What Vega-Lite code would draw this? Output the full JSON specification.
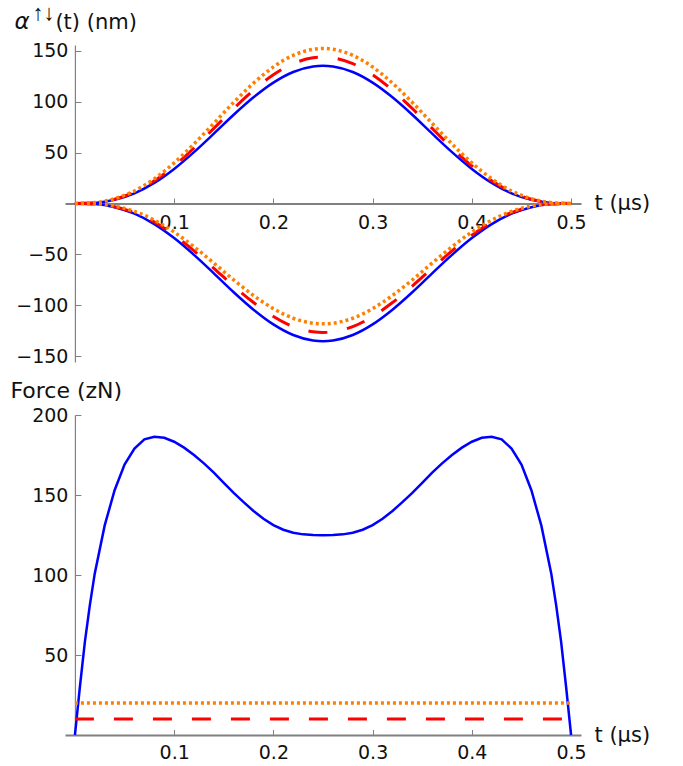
{
  "$schema": "https://vega.github.io/schema/vega-lite/v6.json",
  "background": "white",
  "padding": {"left": 9, "top": 1, "right": 0, "bottom": 10},
  "spacing": 12,
  "config": {
    "view": {"stroke": null},
    "axis": {
      "grid": false,
      "labelFont": "DejaVu Sans",
      "titleFont": "DejaVu Sans",
      "labelFontSize": 19,
      "titleFontSize": 21,
      "titleFontWeight": "normal",
      "labelColor": "#111111",
      "titleColor": "#111111",
      "domainColor": "#808080",
      "tickColor": "#808080",
      "labelFlush": false,
      "labelOverlap": false
    }
  },
  "datasets": {
    "alpha": [
      {"t": 0.00, "bu": 0.0, "bl": 0.0, "ru": 0.0, "rl": 0.0, "ou": 0.0, "ol": 0.0},
      {"t": 0.02, "bu": 0.6, "bl": -0.6, "ru": 0.7, "rl": -0.5, "ou": 0.9, "ol": -0.3},
      {"t": 0.04, "bu": 3.6, "bl": -3.6, "ru": 4.1, "rl": -3.1, "ou": 4.7, "ol": -2.6},
      {"t": 0.06, "bu": 10.0, "bl": -10.0, "ru": 11.2, "rl": -8.9, "ou": 12.3, "ol": -7.7},
      {"t": 0.08, "bu": 20.2, "bl": -20.2, "ru": 22.2, "rl": -18.2, "ou": 24.2, "ol": -16.3},
      {"t": 0.10, "bu": 33.9, "bl": -33.9, "ru": 36.8, "rl": -31.0, "ou": 39.8, "ol": -28.0},
      {"t": 0.12, "bu": 50.4, "bl": -50.4, "ru": 54.4, "rl": -46.4, "ou": 58.4, "ol": -42.4},
      {"t": 0.14, "bu": 68.5, "bl": -68.5, "ru": 73.6, "rl": -63.5, "ou": 78.6, "ol": -58.4},
      {"t": 0.16, "bu": 87.0, "bl": -87.0, "ru": 93.1, "rl": -80.9, "ou": 99.1, "ol": -74.9},
      {"t": 0.18, "bu": 104.1, "bl": -104.1, "ru": 111.1, "rl": -97.1, "ou": 118.0, "ol": -90.2},
      {"t": 0.20, "bu": 118.5, "bl": -118.5, "ru": 126.2, "rl": -110.8, "ou": 133.9, "ol": -103.1},
      {"t": 0.22, "bu": 128.9, "bl": -128.9, "ru": 137.1, "rl": -120.7, "ou": 145.3, "ol": -112.5},
      {"t": 0.24, "bu": 134.3, "bl": -134.3, "ru": 142.8, "rl": -125.8, "ou": 151.2, "ol": -117.4},
      {"t": 0.25, "bu": 135.0, "bl": -135.0, "ru": 143.5, "rl": -126.5, "ou": 152.0, "ol": -118.0},
      {"t": 0.26, "bu": 134.3, "bl": -134.3, "ru": 142.8, "rl": -125.8, "ou": 151.2, "ol": -117.4},
      {"t": 0.28, "bu": 128.9, "bl": -128.9, "ru": 137.1, "rl": -120.7, "ou": 145.3, "ol": -112.5},
      {"t": 0.30, "bu": 118.5, "bl": -118.5, "ru": 126.2, "rl": -110.8, "ou": 133.9, "ol": -103.1},
      {"t": 0.32, "bu": 104.1, "bl": -104.1, "ru": 111.1, "rl": -97.1, "ou": 118.0, "ol": -90.2},
      {"t": 0.34, "bu": 87.0, "bl": -87.0, "ru": 93.1, "rl": -80.9, "ou": 99.1, "ol": -74.9},
      {"t": 0.36, "bu": 68.5, "bl": -68.5, "ru": 73.6, "rl": -63.5, "ou": 78.6, "ol": -58.4},
      {"t": 0.38, "bu": 50.4, "bl": -50.4, "ru": 54.4, "rl": -46.4, "ou": 58.4, "ol": -42.4},
      {"t": 0.40, "bu": 33.9, "bl": -33.9, "ru": 36.8, "rl": -31.0, "ou": 39.8, "ol": -28.0},
      {"t": 0.42, "bu": 20.2, "bl": -20.2, "ru": 22.2, "rl": -18.2, "ou": 24.2, "ol": -16.3},
      {"t": 0.44, "bu": 10.0, "bl": -10.0, "ru": 11.2, "rl": -8.9, "ou": 12.3, "ol": -7.7},
      {"t": 0.46, "bu": 3.6, "bl": -3.6, "ru": 4.1, "rl": -3.1, "ou": 4.7, "ol": -2.6},
      {"t": 0.48, "bu": 0.6, "bl": -0.6, "ru": 0.7, "rl": -0.5, "ou": 0.9, "ol": -0.3},
      {"t": 0.50, "bu": 0.0, "bl": 0.0, "ru": 0.0, "rl": 0.0, "ou": 0.0, "ol": 0.0}
    ],
    "force": [
      {"t": 0.000, "f": 0},
      {"t": 0.005, "f": 30},
      {"t": 0.010, "f": 58},
      {"t": 0.015, "f": 81},
      {"t": 0.020, "f": 101},
      {"t": 0.030, "f": 131},
      {"t": 0.040, "f": 153},
      {"t": 0.050, "f": 169},
      {"t": 0.060, "f": 179},
      {"t": 0.070, "f": 184.8},
      {"t": 0.080, "f": 186.4},
      {"t": 0.090, "f": 185.8},
      {"t": 0.100, "f": 183.3},
      {"t": 0.110, "f": 179.6},
      {"t": 0.120, "f": 175.0},
      {"t": 0.130, "f": 169.8},
      {"t": 0.140, "f": 164.0},
      {"t": 0.150, "f": 157.6},
      {"t": 0.160, "f": 151.3},
      {"t": 0.170, "f": 145.5},
      {"t": 0.180, "f": 140.0},
      {"t": 0.190, "f": 135.2},
      {"t": 0.200, "f": 131.2},
      {"t": 0.210, "f": 128.3},
      {"t": 0.220, "f": 126.4},
      {"t": 0.230, "f": 125.4},
      {"t": 0.240, "f": 125.0},
      {"t": 0.250, "f": 124.9},
      {"t": 0.260, "f": 125.0},
      {"t": 0.270, "f": 125.4},
      {"t": 0.280, "f": 126.4},
      {"t": 0.290, "f": 128.3},
      {"t": 0.300, "f": 131.2},
      {"t": 0.310, "f": 135.2},
      {"t": 0.320, "f": 140.0},
      {"t": 0.330, "f": 145.5},
      {"t": 0.340, "f": 151.3},
      {"t": 0.350, "f": 157.6},
      {"t": 0.360, "f": 164.0},
      {"t": 0.370, "f": 169.8},
      {"t": 0.380, "f": 175.0},
      {"t": 0.390, "f": 179.6},
      {"t": 0.400, "f": 183.3},
      {"t": 0.410, "f": 185.8},
      {"t": 0.420, "f": 186.4},
      {"t": 0.430, "f": 184.8},
      {"t": 0.440, "f": 179},
      {"t": 0.450, "f": 169},
      {"t": 0.460, "f": 153},
      {"t": 0.470, "f": 131},
      {"t": 0.480, "f": 101},
      {"t": 0.485, "f": 81},
      {"t": 0.490, "f": 58},
      {"t": 0.495, "f": 30},
      {"t": 0.500, "f": 0}
    ],
    "static": [
      {"t": 0.0, "f": 20, "s": "orange"},
      {"t": 0.5, "f": 20, "s": "orange"},
      {"t": 0.0, "f": 10, "s": "red"},
      {"t": 0.5, "f": 10, "s": "red"}
    ]
  },
  "vconcat": [
    {
      "width": 516,
      "height": 317,
      "data": {"name": "alpha"},
      "transform": [{"fold": ["bu", "bl", "ru", "rl", "ou", "ol"], "as": ["curve", "v"]}],
      "encoding": {
        "x": {
          "field": "t",
          "type": "quantitative",
          "scale": {"domain": [-0.01, 0.51], "nice": false, "zero": false},
          "axis": {
            "values": [0.1, 0.2, 0.3, 0.4, 0.5],
            "offset": -158.5,
            "tickSize": -5.5,
            "labelPadding": 15.5,
            "domainWidth": 1.8,
            "title": "t (μs)",
            "titleAngle": 0,
            "titleAlign": "left",
            "titleBaseline": "middle",
            "titleX": 529,
            "titleY": 0
          }
        }
      },
      "layer": [
        {
          "transform": [{"filter": {"field": "curve", "oneOf": ["bu", "bl"]}}],
          "mark": {"type": "line", "color": "#0000ff", "strokeWidth": 2.5, "interpolate": "monotone"},
          "encoding": {
            "y": {
              "field": "v",
              "type": "quantitative",
              "scale": {"domain": [-155.4, 155.4], "nice": false, "zero": false},
              "axis": {
                "orient": "left",
                "values": [-150, -100, -50, 50, 100, 150],
                "offset": -9.92,
                "tickSize": -6,
                "labelPadding": 13,
                "domainWidth": 1.2,
                "title": "(t) (nm)",
                "titleAngle": 0,
                "titleAlign": "left",
                "titleBaseline": "alphabetic",
                "titleX": -20,
                "titleY": -17
              }
            },
            "detail": {"field": "curve"}
          }
        },
        {
          "transform": [{"filter": {"field": "curve", "oneOf": ["ru", "rl"]}}],
          "mark": {"type": "line", "color": "#ff0000", "strokeWidth": 3, "strokeDash": [19, 20], "interpolate": "monotone"},
          "encoding": {
            "y": {
              "field": "v",
              "type": "quantitative",
              "axis": {
                "orient": "left",
                "offset": -9.92,
                "labels": false,
                "ticks": false,
                "domain": false,
                "title": "α",
                "titleFontStyle": "italic",
                "titleFontSize": 23,
                "titleAngle": 0,
                "titleAlign": "left",
                "titleBaseline": "alphabetic",
                "titleX": -61,
                "titleY": -17
              }
            },
            "detail": {"field": "curve"}
          }
        },
        {
          "transform": [{"filter": {"field": "curve", "oneOf": ["ou", "ol"]}}],
          "mark": {"type": "line", "color": "#ff8000", "strokeWidth": 3.5, "strokeDash": [3, 3], "interpolate": "monotone"},
          "encoding": {
            "y": {
              "field": "v",
              "type": "quantitative",
              "axis": {
                "orient": "left",
                "offset": -9.92,
                "labels": false,
                "ticks": false,
                "domain": false,
                "title": "↑↓",
                "titleFont": "Liberation Sans",
                "titleFontSize": 22,
                "titleAngle": 0,
                "titleAlign": "left",
                "titleBaseline": "alphabetic",
                "titleX": -43,
                "titleY": -25.5
              }
            },
            "detail": {"field": "curve"}
          }
        },
        {
          "data": {"values": [{"label": "(a)"}]},
          "mark": {"type": "text", "font": "DejaVu Sans", "fontSize": 21, "color": "#111111", "align": "center", "baseline": "middle"},
          "encoding": {
            "x": {"datum": 0.49},
            "y": {"datum": 138, "axis": null},
            "text": {"field": "label"}
          }
        }
      ],
      "resolve": {"axis": {"y": "independent"}}
    },
    {
      "width": 516,
      "height": 320,
      "encoding": {
        "x": {
          "field": "t",
          "type": "quantitative",
          "scale": {"domain": [-0.01, 0.51], "nice": false, "zero": false},
          "axis": {
            "values": [0.1, 0.2, 0.3, 0.4, 0.5],
            "tickSize": -5.5,
            "labelPadding": 14,
            "domainWidth": 1.8,
            "title": "t (μs)",
            "titleAngle": 0,
            "titleAlign": "left",
            "titleBaseline": "middle",
            "titleX": 529,
            "titleY": 0
          }
        },
        "y": {
          "field": "f",
          "type": "quantitative",
          "scale": {"domain": [0, 200], "nice": false},
          "axis": {
            "values": [50, 100, 150, 200],
            "offset": -9.92,
            "tickSize": -6,
            "labelPadding": 13,
            "domainWidth": 1.2,
            "title": "Force (zN)",
            "titleFontSize": 22,
            "titleAngle": 0,
            "titleAlign": "left",
            "titleBaseline": "alphabetic",
            "titleX": -65,
            "titleY": -17.7
          }
        }
      },
      "layer": [
        {
          "data": {"name": "force"},
          "mark": {"type": "line", "color": "#0000ff", "strokeWidth": 2.5},
          "encoding": {}
        },
        {
          "data": {"name": "static"},
          "transform": [{"filter": "datum.s === 'red'"}],
          "mark": {"type": "line", "color": "#ff0000", "strokeWidth": 3, "strokeDash": [19, 20]},
          "encoding": {}
        },
        {
          "data": {"name": "static"},
          "transform": [{"filter": "datum.s === 'orange'"}],
          "mark": {"type": "line", "color": "#ff8000", "strokeWidth": 3.5, "strokeDash": [3, 3]},
          "encoding": {}
        },
        {
          "data": {"values": [{"label": "(b)"}]},
          "mark": {"type": "text", "font": "DejaVu Sans", "fontSize": 21, "color": "#111111", "align": "center", "baseline": "middle"},
          "encoding": {
            "x": {"datum": 0.4856},
            "y": {"datum": 183.5},
            "text": {"field": "label"}
          }
        }
      ]
    }
  ]
}
